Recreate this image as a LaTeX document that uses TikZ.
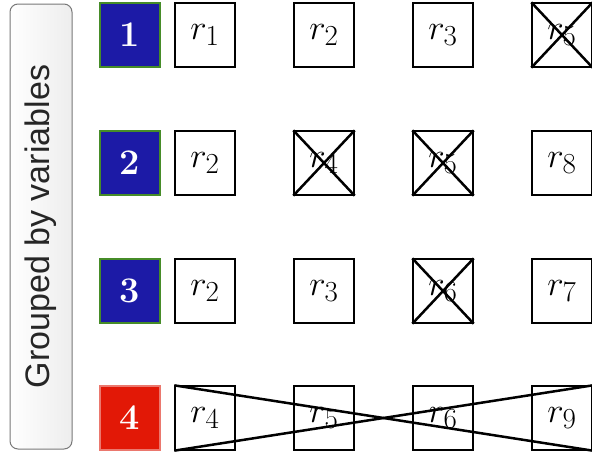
\documentclass[tikz,border=0pt]{standalone}
\usepackage{graphicx}
\usepackage{fontspec}
\newfontfamily\labelfont{Liberation Sans}
\newcommand{\rv}[1]{\scalebox{1.4}{\Huge$r_{#1}$}}
\newcommand{\gid}[1]{\scalebox{1.45}{\Huge\bfseries #1}}
\begin{document}
\begin{tikzpicture}[x=1pt,y=-1pt,
  cell/.style={draw=black,line width=1.3pt,minimum width=60pt,minimum height=64pt,inner sep=0pt,fill=white},
  idbox/.style={cell,text=white},
  blue/.style={idbox,fill={rgb,255:red,28;green,26;blue,166},draw={rgb,255:red,70;green,140;blue,40}},
  red/.style={idbox,fill={rgb,255:red,226;green,24;blue,6},draw={rgb,255:red,235;green,120;blue,110}},
  strike/.style={line width=2.5pt,black}]
\useasboundingbox (0,0) rectangle (592,453);
\node[draw={rgb,255:red,120;green,120;blue,120},line width=1pt,rounded corners=8pt,
  left color=white,right color=black!7,minimum width=62pt,minimum height=445pt,inner sep=0pt] (lbl) at (41,226.5) {};
\node[rotate=90,font=\labelfont\fontsize{34}{40}\selectfont,text=black!85] (lbltext) at (41,226.5) {Grouped by variables};
% rows
\node[blue] (g1) at (130,35) {\gid{1}};
\node[blue] (g2) at (130,163) {\gid{2}};
\node[blue] (g3) at (130,291) {\gid{3}};
\node[red]  (g4) at (130,418) {\gid{4}};
\node[cell] (a1) at (205,35) {\rv{1}};
\node[cell] (a2) at (324,35) {\rv{2}};
\node[cell] (a3) at (443,35) {\rv{3}};
\node[cell] (a4) at (562,35) {\rv{5}};
\node[cell] (b1) at (205,163) {\rv{2}};
\node[cell] (b2) at (324,163) {\rv{4}};
\node[cell] (b3) at (443,163) {\rv{5}};
\node[cell] (b4) at (562,163) {\rv{8}};
\node[cell] (c1) at (205,291) {\rv{2}};
\node[cell] (c2) at (324,291) {\rv{3}};
\node[cell] (c3) at (443,291) {\rv{6}};
\node[cell] (c4) at (562,291) {\rv{7}};
\node[cell] (d1) at (205,418) {\rv{4}};
\node[cell] (d2) at (324,418) {\rv{5}};
\node[cell] (d3) at (443,418) {\rv{6}};
\node[cell] (d4) at (562,418) {\rv{9}};
\foreach \n in {a4,b2,b3,c3}{
  \draw[strike] (\n.north west) -- (\n.south east);
  \draw[strike] (\n.south west) -- (\n.north east);
}
\draw[strike] (d1.north west) -- (d4.south east);
\draw[strike] (d1.south west) -- (d4.north east);
\end{tikzpicture}
\end{document}
